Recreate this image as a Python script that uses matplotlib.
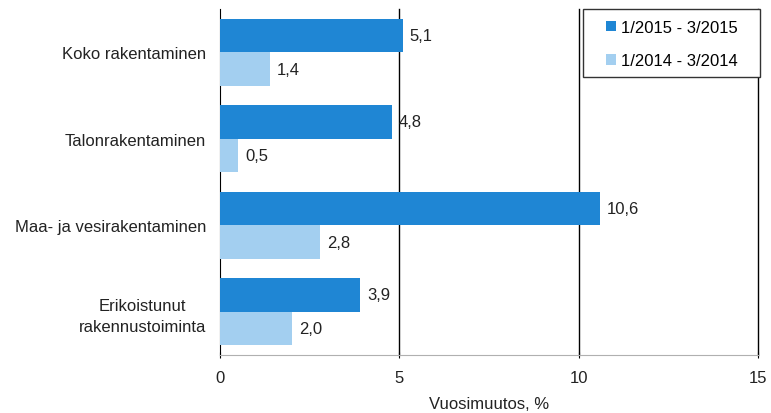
import matplotlib
matplotlib.use("Agg")
import matplotlib.pyplot as plt
from matplotlib.patches import Rectangle
import numpy as np

categories = ["Koko rakentaminen", "Talonrakentaminen", "Maa- ja vesirakentaminen", "Erikoistunut\nrakennustoiminta"]
series_2015 = [5.1, 4.8, 10.6, 3.9]
series_2014 = [1.4, 0.5, 2.8, 2.0]
labels_2015 = ["5,1", "4,8", "10,6", "3,9"]
labels_2014 = ["1,4", "0,5", "2,8", "2,0"]
name_2015 = "1/2015 - 3/2015"
name_2014 = "1/2014 - 3/2014"
xticks = [0, 5, 10, 15]

plt.rcParams['font.family'] = ['Liberation Sans', 'DejaVu Sans']
fs = 12
plt.rcParams['font.size'] = fs

fig = plt.figure(figsize=(7.71, 4.14), dpi=100)
ax = fig.add_axes([220/771, 1-356/414, (758-220)/771, (356-10)/414])

y = np.arange(len(categories))
h = 0.39
dark = "#1f86d4"
light = "#a3cff0"
b1 = ax.barh(y - h/2, series_2015, height=h, color=dark, label=name_2015, zorder=3)
b2 = ax.barh(y + h/2, series_2014, height=h, color=light, label=name_2014, zorder=3)
ax.bar_label(b1, labels=labels_2015, padding=5, fontsize=fs, color='#222222')
ax.bar_label(b2, labels=labels_2014, padding=5, fontsize=fs, color='#222222')

ax.set_xlim(0, 15)
ax.set_ylim(len(categories) - 0.5, -0.5)
ax.set_xticks(xticks)
ax.set_xticklabels([str(t) for t in xticks], color='#222222')
ax.set_yticks(y)
ax.set_yticklabels(categories, multialignment='center', color='#222222', linespacing=1.45)
ax.tick_params(axis='y', length=0, pad=10)
ax.tick_params(axis='x', length=5, direction='inout', color='black', pad=8)
for xv in xticks[1:]:
    ax.axvline(xv, color='black', lw=1, zorder=2, clip_on=False)
ax.spines['top'].set_visible(False)
ax.spines['right'].set_visible(False)
ax.spines['left'].set_color('black')
ax.spines['bottom'].set_color('#b0b0b0')
ax.set_xlabel("Vuosimuutos, %", labelpad=8, color='#222222')

leg = ax.legend(loc='upper left', bbox_to_anchor=(606/771, 1-21/414), bbox_transform=fig.transFigure,
                frameon=False, handlelength=0.6, handleheight=0.6, handletextpad=0.3,
                labelspacing=1.1, borderaxespad=0, borderpad=0, fontsize=fs)
leg.set_zorder(6)
frame = Rectangle((583/771, 1-78/414), (760-583)/771, (78-10)/414, transform=fig.transFigure,
                  facecolor='white', edgecolor='#333333', lw=1, zorder=5)
fig.add_artist(frame)
fig.add_artist(leg)

fig.savefig("out.png", dpi=100)
